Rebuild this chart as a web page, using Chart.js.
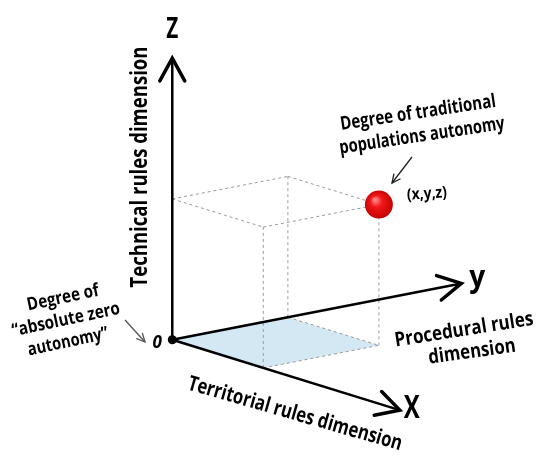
<!DOCTYPE html>
<html lang="en">
<head>
    <meta charset="UTF-8">
    <title>Degree of traditional populations autonomy</title>
    <script src="https://cdn.jsdelivr.net/npm/chart.js"></script>
    <style>
        html, body {
            margin: 0;
            padding: 0;
            background: #fff;
        }
        .chart-container {
            width: 536px;
            height: 457px;
        }
    </style>
</head>
<body>
    <div class="chart-container">
        <canvas id="myChart"></canvas>
    </div>

    <script>
        // Data: a 3D frame (x, y, z) and one point inside it
        const axisNames = ['X', 'y', 'Z'];
        const axisMax = [2.5, 2.5, 2.0];           // length of x, y, z axes
        const pointXYZ = [1, 1, 1];                 // the (x,y,z) point
        const originXYZ = [0, 0, 0];                // "absolute zero autonomy"

        // oblique projection 3D -> 2D (layout only)
        const EX = [96, -30], EY = [122, 24], EZ = [0, 150];
        function proj(p) {
            return {
                x: p[0] * EX[0] + p[1] * EY[0] + p[2] * EZ[0],
                y: p[0] * EX[1] + p[1] * EY[1] + p[2] * EZ[1]
            };
        }

        const [px, py, pz] = pointXYZ;
        const axisTips = [[axisMax[0], 0, 0], [0, axisMax[1], 0], [0, 0, axisMax[2]]];

        // box edges (dashed) built from the point
        const boxEdges = [
            [[px, 0, 0], [px, py, 0]], [[0, py, 0], [px, py, 0]],
            [[px, 0, 0], [px, 0, pz]], [[0, py, 0], [0, py, pz]], [[px, py, 0], [px, py, pz]],
            [[0, 0, pz], [px, 0, pz]], [[0, 0, pz], [0, py, pz]],
            [[px, 0, pz], [px, py, pz]], [[0, py, pz], [px, py, pz]]
        ];
        const boxData = [];
        boxEdges.forEach(e => {
            boxData.push(proj(e[0]), proj(e[1]), { x: NaN, y: NaN });
        });

        const floorData = [originXYZ, [px, 0, 0], [px, py, 0], [0, py, 0], originXYZ].map(proj);

        function ballColor(ctx) {
            const chart = ctx.chart;
            if (!chart.chartArea) return '#e00';
            const p = proj(pointXYZ);
            const cx = chart.scales.x.getPixelForValue(p.x);
            const cy = chart.scales.y.getPixelForValue(p.y);
            const g = chart.ctx.createRadialGradient(cx - 4, cy - 5, 1, cx, cy, 15);
            g.addColorStop(0, '#ff8a8a');
            g.addColorStop(0.35, '#f21818');
            g.addColorStop(1, '#c00000');
            return g;
        }

        // helpers for drawing text and arrows
        function label(ctx, text, x, y, angle, size, opts = {}) {
            ctx.save();
            ctx.translate(x, y);
            ctx.rotate(angle * Math.PI / 180);
            ctx.font = (opts.italic ? 'italic ' : '') + 'bold ' + size + 'px "Open Sans", sans-serif';
            ctx.fillStyle = opts.color || '#000';
            ctx.textAlign = 'center';
            ctx.textBaseline = 'middle';
            if (opts.width) ctx.fillText(text, 0, 0, opts.width);
            else ctx.fillText(text, 0, 0);
            ctx.restore();
        }

        function chevron(ctx, x0, y0, x1, y1, len, half, width, color) {
            const a = Math.atan2(y1 - y0, x1 - x0);
            ctx.save();
            ctx.strokeStyle = color;
            ctx.lineWidth = width;
            ctx.lineCap = 'round';
            ctx.lineJoin = 'miter';
            ctx.beginPath();
            ctx.moveTo(x1 - len * Math.cos(a - half), y1 - len * Math.sin(a - half));
            ctx.lineTo(x1, y1);
            ctx.lineTo(x1 - len * Math.cos(a + half), y1 - len * Math.sin(a + half));
            ctx.stroke();
            ctx.restore();
        }

        function pointer(ctx, x0, y0, x1, y1, color) {
            ctx.save();
            ctx.strokeStyle = color;
            ctx.lineWidth = 1.3;
            ctx.beginPath();
            ctx.moveTo(x0, y0);
            ctx.lineTo(x1, y1);
            ctx.stroke();
            ctx.restore();
            chevron(ctx, x0, y0, x1, y1, 9, 0.45, 1.3, color);
        }

        const annotations = {
            id: 'annotations',
            afterDatasetsDraw(chart) {
                const ctx = chart.ctx;
                const sx = chart.scales.x, sy = chart.scales.y;
                const O = proj(originXYZ);
                const ox = sx.getPixelForValue(O.x), oy = sy.getPixelForValue(O.y);

                // axis arrowheads and names
                const nameOffsets = [[12, -1], [16, -5], [0, -28]];
                const nameSizes = [32, 30, 28];
                const nameWidths = [16, 16, 12];
                axisTips.forEach((t, i) => {
                    const p = proj(t);
                    const tx = sx.getPixelForValue(p.x), ty = sy.getPixelForValue(p.y);
                    chevron(ctx, ox, oy, tx, ty, 26, 0.5, 3.5, '#000');
                    label(ctx, axisNames[i], tx + nameOffsets[i][0], ty + nameOffsets[i][1], 0, nameSizes[i], { width: nameWidths[i] });
                });

                // axis titles
                label(ctx, 'Technical rules dimension', 140, 167, -90, 23, { width: 241 });
                label(ctx, 'Territorial rules dimension', 295, 414, 16, 21, { width: 222 });
                label(ctx, 'Procedural rules', 464, 330, -9, 20, { width: 140 });
                label(ctx, 'dimension', 472, 352, -8, 20, { width: 88 });

                // point annotation
                label(ctx, 'Degree of traditional', 418, 113, -8.5, 19, { width: 157 });
                label(ctx, 'populations autonomy', 422, 136, -8.5, 19, { width: 167 });
                pointer(ctx, 412, 157, 392, 183, '#222');
                label(ctx, '(x,y,z)', 427, 194, -4, 16, { width: 40 });

                // origin annotation
                label(ctx, 'Degree of', 63, 298, -12, 18, { width: 73 });
                label(ctx, '\u201Cabsolute zero', 66, 320, -12, 18, { width: 110 });
                label(ctx, 'autonomy\u201D', 68, 342, -12, 18, { width: 82 });
                pointer(ctx, 125, 320, 145, 342, '#555');
                label(ctx, '0', ox - 15, oy + 3, 0, 17, { italic: true });
            }
        };

        const ctx = document.getElementById('myChart').getContext('2d');
        const myChart = new Chart(ctx, {
            type: 'scatter',
            data: {
                datasets: [
                    {
                        // floor of the box
                        data: floorData,
                        showLine: true,
                        fill: 'shape',
                        backgroundColor: '#d4e8f3',
                        borderWidth: 0,
                        pointRadius: 0,
                        order: 5
                    },
                    {
                        // dashed box
                        data: boxData,
                        showLine: true,
                        spanGaps: false,
                        borderColor: '#9a9a9a',
                        borderWidth: 1,
                        borderDash: [3, 3],
                        pointRadius: 0,
                        order: 4
                    },
                    ...axisTips.map(t => ({
                        data: [proj(originXYZ), proj(t)],
                        showLine: true,
                        borderColor: '#000',
                        borderWidth: 2.5,
                        pointRadius: 0,
                        order: 3
                    })),
                    {
                        // origin dot
                        data: [proj(originXYZ)],
                        pointRadius: 4.5,
                        backgroundColor: '#000',
                        borderWidth: 0,
                        order: 2
                    },
                    {
                        // the (x,y,z) point
                        data: [proj(pointXYZ)],
                        pointRadius: 14,
                        backgroundColor: ballColor,
                        borderWidth: 0,
                        order: 1
                    }
                ]
            },
            options: {
                responsive: true,
                maintainAspectRatio: false,
                animation: false,
                layout: { padding: 0 },
                plugins: {
                    legend: { display: false },
                    tooltip: { enabled: false }
                },
                scales: {
                    x: { type: 'linear', min: -167, max: 369, display: false },
                    y: { type: 'linear', min: -110, max: 347, display: false }
                }
            },
            plugins: [annotations]
        });
    </script>
</body>
</html>
